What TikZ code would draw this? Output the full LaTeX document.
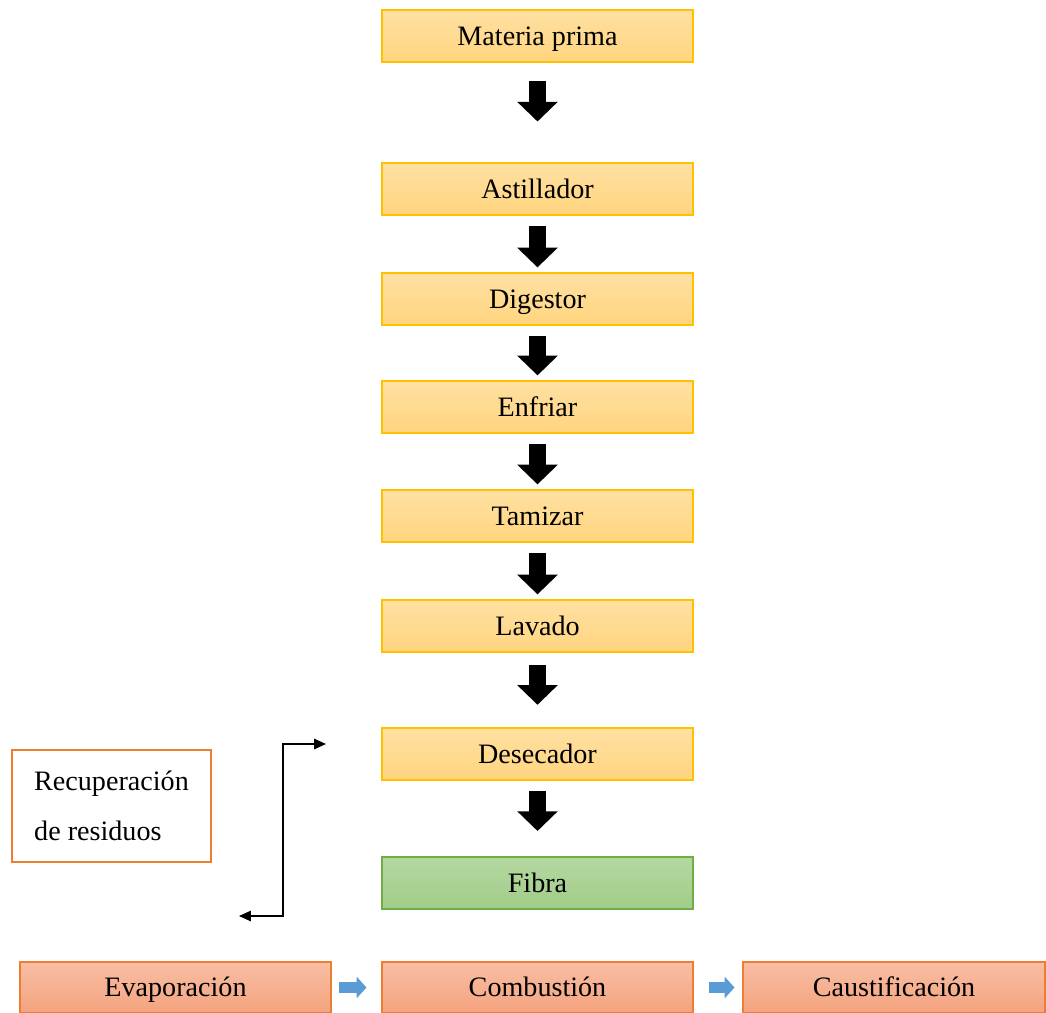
\documentclass[tikz,border=0pt]{standalone}
\usepackage{fontspec}
\setmainfont{Liberation Serif}
\usetikzlibrary{arrows.meta}

\definecolor{procline}{HTML}{FFC000}
\definecolor{proctop}{HTML}{FFE1A3}
\definecolor{procbot}{HTML}{FFD47E}
\definecolor{fibline}{HTML}{70AD47}
\definecolor{fibtop}{HTML}{B5D8A2}
\definecolor{fibbot}{HTML}{A1CC88}
\definecolor{recline}{HTML}{ED7D31}
\definecolor{rectop}{HTML}{F8BEA3}
\definecolor{recbot}{HTML}{F4A37F}
\definecolor{flowblue}{HTML}{5B9BD5}

\tikzset{
    procbox/.style={draw=procline, line width=1pt, top color=proctop, bottom color=procbot,
        minimum width=7.775cm, minimum height=1.3cm, inner sep=0pt, text height=15pt, text depth=2pt,
        font=\fontsize{20}{24}\selectfont},
    fibbox/.style={procbox, draw=fibline, top color=fibtop, bottom color=fibbot},
    chembox/.style={procbox, draw=recline, top color=rectop, bottom color=recbot, minimum height=1.275cm},
    notebox/.style={draw=recline, line width=1pt, fill=white, minimum width=4.975cm, minimum height=2.8cm,
        inner sep=0pt, align=left, font=\fontsize{20}{24}\selectfont},
    downarr/.style={line width=12pt, -{Triangle[length=14pt,width=28pt]}},
    sidearr/.style={flowblue, line width=8pt, -{Triangle[length=7pt,width=15pt]}},
    looparr/.style={line width=0.8pt, {Triangle[length=8.5pt,width=7.5pt]}-{Triangle[length=8.5pt,width=7.5pt]}}
}

\begin{document}
\begin{tikzpicture}[x=0.025cm, y=-0.025cm]
    \useasboundingbox (0,0) rectangle (1046,1013);

    % process column
    \node[procbox] (mp) at (537.5,36) {Materia prima};
    \node[procbox] (ast) at (537.5,189) {Astillador};
    \node[procbox] (dig) at (537.5,299) {Digestor};
    \node[procbox] (enf) at (537.5,407) {Enfriar};
    \node[procbox] (tam) at (537.5,516) {Tamizar};
    \node[procbox] (lav) at (537.5,626) {Lavado};
    \node[procbox] (des) at (537.5,754) {Desecador};
    \node[fibbox] (fib) at (537.5,883) {Fibra};

    % recovery row
    \node[chembox] (eva) at (175.5,987.5) {Evaporación};
    \node[chembox] (com) at (537.5,987.5) {Combustión};
    \node[chembox, minimum width=7.55cm] (cau) at (894,987.5) {Caustificación};

    % recovery note
    \node[notebox] (rec) at (111.5,806) {Recuperación\\[11.6pt]de residuos};

    % arrows down the column
    \draw[downarr, shorten <=12.8pt, shorten >=29pt] (mp) -- (ast);
    \foreach \a/\b in {ast/dig, dig/enf, enf/tam, tam/lav}
        \draw[downarr, shorten <=7pt, shorten >=3.5pt] (\a) -- (\b);
    \draw[downarr, shorten <=9pt, shorten >=16pt] (lav) -- (des);
    \draw[downarr, shorten <=7pt, shorten >=18pt] (des) -- (fib);

    % arrows along the bottom
    \draw[sidearr, shorten <=5pt, shorten >=10.5pt] (eva) -- (com);
    \draw[sidearr, shorten <=11pt, shorten >=5.5pt] (com) -- (cau);

    % loop arrow
    \coordinate (backend) at (239,916);
    \coordinate (backtip) at (326,744);
    \draw[looparr] (backend) -- ++(44,0) |- (backtip);
\end{tikzpicture}
\end{document}
